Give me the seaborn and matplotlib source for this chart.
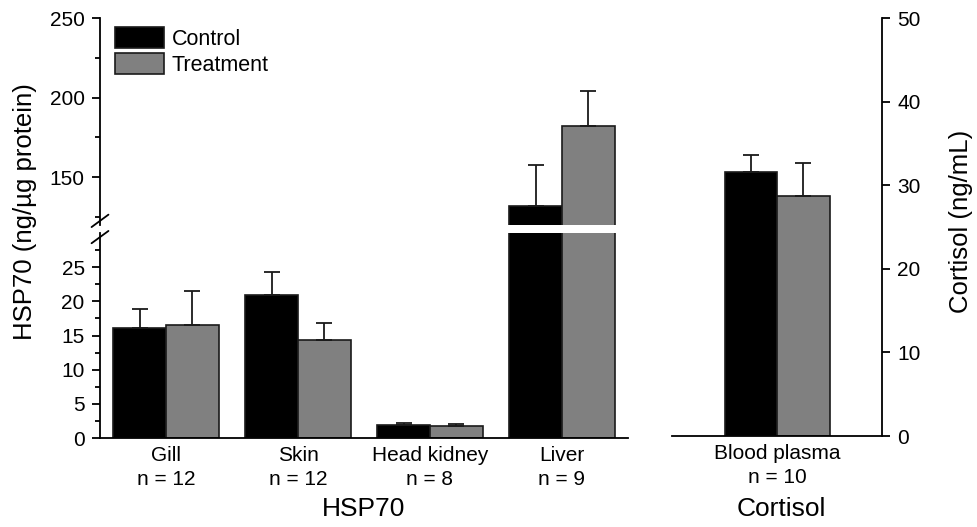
import numpy as np
import pandas as pd
import seaborn as sns
import matplotlib.pyplot as plt
from matplotlib.ticker import MultipleLocator
from matplotlib.patches import Patch

# data
tissues = ["Gill\nn = 12", "Skin\nn = 12", "Head kidney\nn = 8", "Liver\nn = 9"]
groups = ["Control", "Treatment"]
hsp_control = [16.1, 21.0, 1.9, 132.0]
hsp_treat = [16.5, 14.3, 1.75, 182.0]
hsp_control_err = [2.8, 3.3, 0.25, 25.5]
hsp_treat_err = [5.0, 2.5, 0.3, 22.0]

plasma = ["Blood plasma\nn = 10"]
cort_control = [31.6]
cort_treat = [28.7]
cort_control_err = [2.0]
cort_treat_err = [3.9]

pal = {"Control": "#000000", "Treatment": "#808080"}

hsp = pd.DataFrame({
    "tissue": tissues * 2,
    "group": ["Control"] * 4 + ["Treatment"] * 4,
    "value": hsp_control + hsp_treat,
    "err": hsp_control_err + hsp_treat_err,
})
cort = pd.DataFrame({
    "tissue": plasma * 2,
    "group": groups,
    "value": cort_control + cort_treat,
    "err": cort_control_err + cort_treat_err,
})

sns.set_theme(style="ticks", rc={"text.color": "black", "axes.edgecolor": "black",
                                 "xtick.color": "black", "ytick.color": "black",
                                 "axes.labelcolor": "black"})
plt.rcParams["font.family"] = ["Liberation Sans", "DejaVu Sans"]
plt.rcParams["axes.linewidth"] = 1.3

W, H = 978, 527
fig = plt.figure(figsize=(W / 100, H / 100), dpi=100)


def box(x0, y0, x1, y1):
    # pixel box (top-left origin) -> figure fraction
    return [x0 / W, 1 - y1 / H, (x1 - x0) / W, (y1 - y0) / H]


ax_top = fig.add_axes(box(100, 18, 628, 225))
ax_bot = fig.add_axes(box(100, 233, 628, 438))
ax_r = fig.add_axes(box(672, 18, 882, 436))


def draw(ax, df):
    sns.barplot(data=df, x="tissue", y="value", hue="group", hue_order=groups,
                palette=pal, width=0.8, errorbar=None, saturation=1,
                edgecolor="#1a1a1a", linewidth=1.2, legend=False, ax=ax)
    for cont, g in zip(ax.containers, groups):
        sub = df[df.group == g]
        for bar, v, e in zip(cont, sub.value, sub.err):
            x = bar.get_x() + bar.get_width() / 2
            ax.errorbar(x, v, yerr=[[0], [e]], fmt="none", ecolor="#1a1a1a",
                        elinewidth=1.3, capsize=5.5, capthick=1.3, zorder=3)


draw(ax_top, hsp)
draw(ax_bot, hsp)
draw(ax_r, cort)

for ax in (ax_top, ax_bot):
    ax.set_xlim(-0.5, 3.5)
    ax.spines[["top", "right"]].set_visible(False)
    ax.set_xlabel("")
    ax.set_ylabel("")

ax_top.set_ylim(120, 250)
ax_top.spines["bottom"].set_visible(False)
ax_top.tick_params(axis="x", bottom=False, labelbottom=False)
ax_top.set_yticks([150, 200, 250])
ax_top.set_yticks([125, 175, 225], minor=True)

ax_bot.set_ylim(0, 30)
ax_bot.set_yticks(np.arange(0, 30, 5))
ax_bot.set_yticks(np.arange(2.5, 30, 5), minor=True)
ax_bot.tick_params(axis="x", length=0, pad=6, labelsize=15)

ax_r.set_xlim(-0.8, 0.8)
ax_r.set_ylim(0, 50)
ax_r.spines[["top", "left"]].set_visible(False)
ax_r.yaxis.tick_right()
ax_r.yaxis.set_major_locator(MultipleLocator(10))
ax_r.set_xlabel("")
ax_r.set_ylabel("")
ax_r.tick_params(axis="x", length=0, pad=6, labelsize=15)

for ax in (ax_bot, ax_r):
    for lab in ax.get_xticklabels():
        lab.set_linespacing(1.3)

for ax in (ax_top, ax_bot, ax_r):
    ax.tick_params(axis="y", which="major", length=6, width=1.3, pad=5,
                   labelsize=15, direction="out")
    ax.tick_params(axis="y", which="minor", length=3.5, width=1.3, direction="out")

# axis break marks
kw = dict(color="black", lw=1.3, clip_on=False)
ax_top.plot([-0.016, 0.016], [-0.01, 0.05], transform=ax_top.transAxes, **kw)
ax_bot.plot([-0.016, 0.016], [0.95, 1.01], transform=ax_bot.transAxes, **kw)

handles = [Patch(facecolor=pal[g], edgecolor="#1a1a1a", linewidth=1.2, label=g) for g in groups]
ax_top.legend(handles=handles, loc="upper left", bbox_to_anchor=(0.028, 0.957),
              frameon=False, borderaxespad=0, borderpad=0, handlelength=2.3,
              handleheight=1.16, labelspacing=0.14, handletextpad=0.35, fontsize=15.5)

fig.text(0.0256, 0.599, "HSP70 (ng/µg protein)", rotation=90, ha="center", va="center", fontsize=18.5)
fig.text(0.983, 0.579, "Cortisol (ng/mL)", rotation=90, ha="center", va="center", fontsize=18.5)
fig.text(0.372, 0.034, "HSP70", ha="center", va="center", fontsize=19)
fig.text(0.799, 0.034, "Cortisol", ha="center", va="center", fontsize=19)

fig.savefig("out.png", dpi=100, facecolor="white")
